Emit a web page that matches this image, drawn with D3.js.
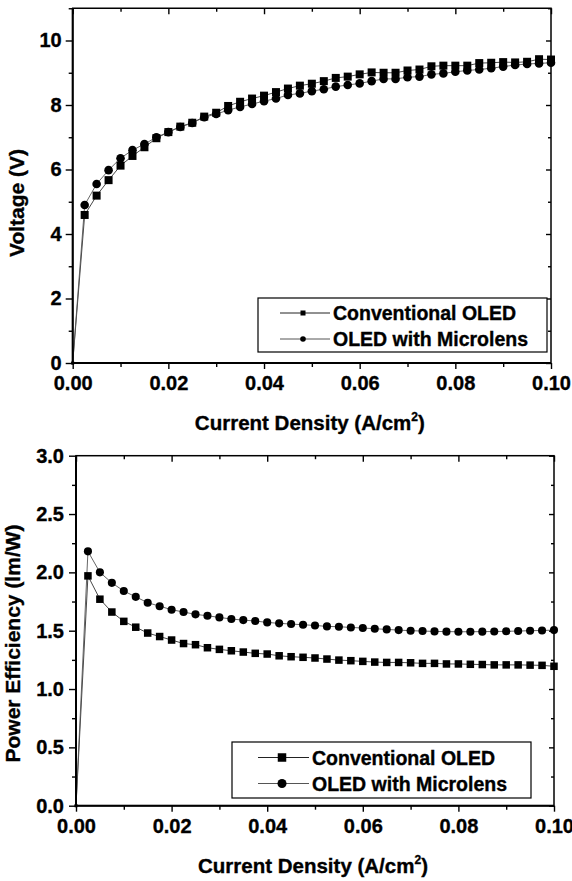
<!DOCTYPE html>
<html>
<head>
<meta charset="utf-8">
<script src="https://cdn.jsdelivr.net/npm/d3@7/dist/d3.min.js"></script>
<style>
  html, body { margin: 0; padding: 0; background: #fff; }
  svg { display: block; }
  text { font-family: "Liberation Sans", Arial, Helvetica, sans-serif; font-weight: bold; fill: #000; stroke: #000; stroke-width: 0.35px; }
</style>
</head>
<body>
<svg id="chart" width="572" height="881"></svg>
<script>
// ---------------- DATA ----------------
// Current density (A/cm^2): 0 then 0.0025 steps up to 0.1
const currentDensity = [0,
  0.0025, 0.0050, 0.0075, 0.0100, 0.0125, 0.0150, 0.0175, 0.0200, 0.0225, 0.0250,
  0.0275, 0.0300, 0.0325, 0.0350, 0.0375, 0.0400, 0.0425, 0.0450, 0.0475, 0.0500,
  0.0525, 0.0550, 0.0575, 0.0600, 0.0625, 0.0650, 0.0675, 0.0700, 0.0725, 0.0750,
  0.0775, 0.0800, 0.0825, 0.0850, 0.0875, 0.0900, 0.0925, 0.0950, 0.0975, 0.1000];

const seriesNames = ["Conventional OLED", "OLED with Microlens"];

// Voltage (V)
const voltageConventional = [0,
  4.59, 5.19, 5.67, 6.12, 6.42, 6.69, 6.97, 7.16, 7.33, 7.45,
  7.64, 7.76, 7.97, 8.10, 8.20, 8.29, 8.40, 8.51, 8.60, 8.66,
  8.74, 8.84, 8.88, 8.95, 9.01, 9.00, 9.00, 9.07, 9.10, 9.20,
  9.22, 9.22, 9.22, 9.30, 9.31, 9.33, 9.32, 9.34, 9.42, 9.41];
const voltageMicrolens = [0,
  4.90, 5.55, 5.98, 6.35, 6.60, 6.79, 7.00, 7.16, 7.32, 7.44,
  7.62, 7.72, 7.84, 7.94, 8.03, 8.12, 8.20, 8.31, 8.36, 8.43,
  8.49, 8.57, 8.62, 8.67, 8.74, 8.81, 8.81, 8.86, 8.88, 8.95,
  8.98, 9.03, 9.07, 9.10, 9.14, 9.19, 9.24, 9.27, 9.29, 9.31];

// Power efficiency (lm/W)
const efficiencyConventional = [0,
  1.97, 1.77, 1.66, 1.58, 1.53, 1.48, 1.45, 1.42, 1.39, 1.38,
  1.354, 1.340, 1.328, 1.317, 1.306, 1.300, 1.285, 1.277, 1.272, 1.266,
  1.257, 1.248, 1.243, 1.237, 1.231, 1.228, 1.228, 1.225, 1.220, 1.220,
  1.215, 1.215, 1.212, 1.210, 1.207, 1.207, 1.207, 1.205, 1.203, 1.195];
const efficiencyMicrolens = [0,
  2.18, 2.00, 1.91, 1.84, 1.79, 1.74, 1.71, 1.68, 1.66, 1.64,
  1.628, 1.614, 1.600, 1.591, 1.583, 1.571, 1.563, 1.557, 1.551, 1.545,
  1.537, 1.534, 1.528, 1.523, 1.517, 1.511, 1.505, 1.500, 1.497, 1.494,
  1.492, 1.491, 1.491, 1.492, 1.493, 1.495, 1.497, 1.500, 1.502, 1.505];

// Ticks
const xTicksMajor = [0, 0.02, 0.04, 0.06, 0.08, 0.10];
const xTicksMinor = [0.01, 0.03, 0.05, 0.07, 0.09];
const xTickLabels = ["0.00", "0.02", "0.04", "0.06", "0.08", "0.10"];
const vTicksMajor = [0, 2, 4, 6, 8, 10];
const vTicksMinor = [1, 3, 5, 7, 9, 11];
const vTickLabels = ["0", "2", "4", "6", "8", "10"];
const pTicksMajor = [0, 0.5, 1.0, 1.5, 2.0, 2.5, 3.0];
const pTicksMinor = [0.25, 0.75, 1.25, 1.75, 2.25, 2.75];
const pTickLabels = ["0.0", "0.5", "1.0", "1.5", "2.0", "2.5", "3.0"];

// ---------------- DRAW ----------------
const svg = d3.select("#chart");

function drawPanel(cfg) {
  const x = d3.scaleLinear().domain([0, 0.1]).range([cfg.left, cfg.right]);
  const y = d3.scaleLinear().domain(cfg.yDomain).range([cfg.bottom, cfg.top]);
  const g = svg.append("g");

  // data lines
  const line = d3.line().x((d, i) => x(currentDensity[i])).y(d => y(d));
  cfg.series.forEach((s, si) => {
    g.append("path").datum(s)
      .attr("fill", "none").attr("stroke", si === 0 ? "#333" : "#555")
      .attr("stroke-width", 0.9).attr("d", line);
  });

  // markers
  const ms = cfg.markerSize;
  g.append("g").selectAll("rect").data(cfg.series[0]).join("rect")
    .attr("x", (d, i) => x(currentDensity[i]) - (i === 0 ? 1.5 : ms / 2))
    .attr("y", d => y(d) - (d === 0 ? 1.5 : ms / 2))
    .attr("width", (d, i) => i === 0 ? 3 : ms).attr("height", (d, i) => i === 0 ? 3 : ms).attr("fill", "#000");
  g.append("g").selectAll("circle").data(cfg.series[1]).join("circle")
    .attr("cx", (d, i) => x(currentDensity[i]))
    .attr("cy", d => y(d))
    .attr("r", (d, i) => i === 0 ? 1.5 : ms / 2 + 0.3).attr("fill", "#000");

  // axes
  const fmtX = d => xTickLabels[xTicksMajor.indexOf(d)];
  const fmtY = d => cfg.yLabels[cfg.yMajor.indexOf(d)];

  g.append("g").attr("transform", `translate(0,${cfg.bottom})`)
    .call(d3.axisBottom(x).tickValues(xTicksMajor).tickFormat(fmtX).tickSize(6).tickPadding(cfg.xPad));
  g.append("g").attr("transform", `translate(0,${cfg.bottom})`)
    .call(d3.axisBottom(x).tickValues(xTicksMinor).tickFormat("").tickSize(4));
  g.append("g").attr("transform", `translate(0,${cfg.top})`)
    .call(d3.axisBottom(x).tickValues(xTicksMajor).tickFormat("").tickSize(6));
  g.append("g").attr("transform", `translate(0,${cfg.top})`)
    .call(d3.axisBottom(x).tickValues(xTicksMinor).tickFormat("").tickSize(3.5));

  g.append("g").attr("transform", `translate(${cfg.left},0)`)
    .call(d3.axisLeft(y).tickValues(cfg.yMajor).tickFormat(fmtY).tickSize(7).tickPadding(cfg.yPad));
  g.append("g").attr("transform", `translate(${cfg.left},0)`)
    .call(d3.axisLeft(y).tickValues(cfg.yMinor).tickFormat("").tickSize(4));
  g.append("g").attr("transform", `translate(${cfg.right},0)`)
    .call(d3.axisLeft(y).tickValues(cfg.yMajor).tickFormat("").tickSize(5));
  g.append("g").attr("transform", `translate(${cfg.right},0)`)
    .call(d3.axisLeft(y).tickValues(cfg.yMinor).tickFormat("").tickSize(3));

  g.selectAll(".domain").remove();
  g.selectAll(".tick line").attr("stroke", "#000").attr("stroke-width", 1.4);
  g.selectAll(".tick text").attr("font-size", 20).attr("font-family", '"Liberation Sans", Arial, sans-serif')
    .attr("font-weight", "bold").attr("fill", "#000");

  // frame
  g.append("rect").attr("x", cfg.left).attr("y", cfg.top)
    .attr("width", cfg.right - cfg.left).attr("height", cfg.bottom - cfg.top)
    .attr("fill", "none").attr("stroke", "#000").attr("stroke-width", 1.5);
  g.append("line").attr("x1", cfg.left).attr("x2", cfg.left).attr("y1", cfg.top).attr("y2", cfg.bottom)
    .attr("stroke", "#000").attr("stroke-width", 2);
  g.append("line").attr("x1", cfg.left).attr("x2", cfg.right).attr("y1", cfg.bottom).attr("y2", cfg.bottom)
    .attr("stroke", "#000").attr("stroke-width", 2);

  // x title
  const xt = g.append("text").attr("x", (cfg.left + cfg.right) / 2 - 2).attr("y", cfg.xTitleY)
    .attr("text-anchor", "middle").attr("font-size", 20.5);
  xt.append("tspan").text("Current Density (A/cm");
  xt.append("tspan").attr("font-size", 12).attr("dy", -9).text("2");
  xt.append("tspan").attr("dy", 9).text(")");

  // y title
  g.append("text").attr("transform", `translate(${cfg.yTitleX},${cfg.yTitleY}) rotate(-90)`)
    .attr("text-anchor", "middle").attr("font-size", 21).text(cfg.yTitle);

  // legend
  const L = cfg.legend;
  g.append("rect").attr("x", L.x).attr("y", L.y).attr("width", L.w).attr("height", L.h)
    .attr("fill", "#fff").attr("stroke", "#000").attr("stroke-width", 1.2);
  seriesNames.forEach((name, i) => {
    const cy = L.rowY[i];
    g.append("line").attr("x1", L.lx1).attr("x2", L.lx2).attr("y1", cy).attr("y2", cy)
      .attr("stroke", i === 0 ? "#222" : "#555").attr("stroke-width", 1);
    const mx = (L.lx1 + L.lx2) / 2 - L.mOff;
    if (i === 0) {
      g.append("rect").attr("x", mx - L.ms / 2).attr("y", cy - L.ms / 2)
        .attr("width", L.ms).attr("height", L.ms).attr("fill", "#000");
    } else {
      g.append("circle").attr("cx", mx).attr("cy", cy).attr("r", L.ms / 2 + 0.3).attr("fill", "#000");
    }
    g.append("text").attr("x", L.tx).attr("y", cy + 7).attr("font-size", 19.5).text(name);
  });
}

drawPanel({
  left: 72.7, right: 551, top: 8.25, bottom: 363,
  yDomain: [0, 11], yMajor: vTicksMajor, yMinor: vTicksMinor, yLabels: vTickLabels,
  series: [voltageConventional, voltageMicrolens],
  markerSize: 8, xPad: 7, yPad: 4,
  xTitleY: 430, yTitleX: 23.5, yTitleY: 203, yTitle: "Voltage (V)",
  legend: { x: 258, y: 298, w: 289, h: 54, rowY: [313, 339], lx1: 280, lx2: 330, mOff: 2, ms: 5, tx: 333 }
});

drawPanel({
  left: 76, right: 554, top: 455.7, bottom: 805.7,
  yDomain: [0, 3], yMajor: pTicksMajor, yMinor: pTicksMinor, yLabels: pTicksMajor.map((d, i) => pTickLabels[i]),
  series: [efficiencyConventional, efficiencyMicrolens],
  markerSize: 7.5, xPad: 7, yPad: 5,
  xTitleY: 873, yTitleX: 20, yTitleY: 643.5, yTitle: "Power Efficiency (lm/W)",
  legend: { x: 232, y: 742, w: 299, h: 56, rowY: [757.5, 783.5], lx1: 258, lx2: 309, mOff: 1.5, ms: 8.5, tx: 312 }
});
</script>
</body>
</html>
